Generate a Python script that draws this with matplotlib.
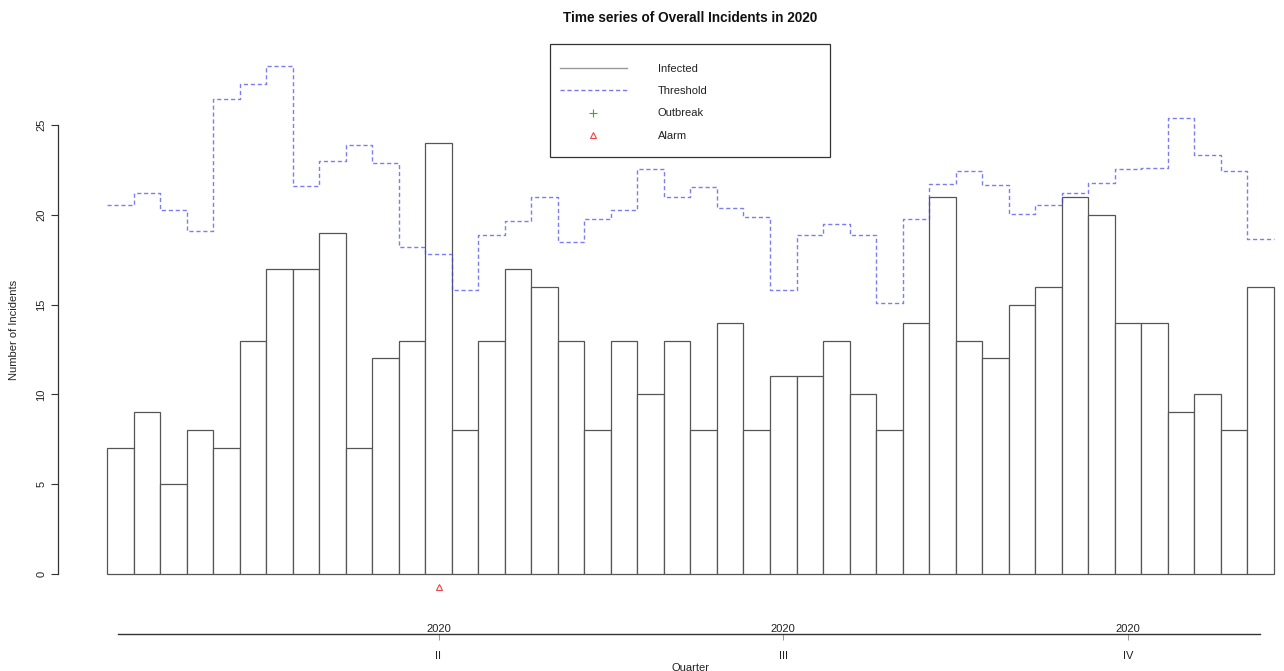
import matplotlib
matplotlib.use("Agg")
import matplotlib.pyplot as plt
from matplotlib.lines import Line2D
from matplotlib.patches import Rectangle
import numpy as np

plt.rcParams['font.family'] = ['Liberation Sans', 'DejaVu Sans']

weeks = list(range(1, 45))
infected = [7, 9, 5, 8, 7, 13, 17, 17, 19, 7, 12, 13, 24, 8, 13, 17, 16, 13, 8, 13,
            10, 13, 8, 14, 8, 11, 11, 13, 10, 8, 14, 21, 13, 12, 15, 16, 21, 20, 14, 14,
            9, 10, 8, 16]
threshold = [20.55, 21.2, 20.25, 19.1, 26.45, 27.3, 28.3, 21.6, 23.0, 23.9, 22.9, 18.2,
             17.8, 15.8, 18.9, 19.65, 21.0, 18.5, 19.75, 20.25, 22.55, 21.0, 21.55, 20.4,
             19.9, 15.8, 18.9, 19.5, 18.9, 15.1, 19.75, 21.7, 22.45, 21.65, 20.05, 20.55,
             21.2, 21.75, 22.55, 22.6, 25.4, 23.35, 22.45, 18.65]
alarm_weeks = [13]
quarter_ticks = [13, 26, 39]
quarter_labels = ['II', 'III', 'IV']
year_label = '2020'

W, H = 1284, 671
fig = plt.figure(figsize=(W / 100, H / 100), dpi=100)

def fx(px):
    return px / W

def fy(py):
    return 1 - py / H

FS = 8

# main axes: px 95..1280 horizontally, 50..600 vertically
ax = fig.add_axes([fx(95), fy(600), fx(1280) - fx(95), fy(50) - fy(600)])
xlim = (0.5 - 12 / 26.52, 0.5 + (1280 - 107) / 26.52)
ax.set_xlim(*xlim)
ax.set_ylim(-26 / 17.96, (574 - 50) / 17.96)

ax.bar(weeks, infected, width=1.0, facecolor='white', edgecolor='#555555', linewidth=0.9)

edges = np.arange(0.5, len(weeks) + 1, 1.0)
ax.step(edges, threshold + [threshold[-1]], where='post', color='#4444ee', alpha=0.7,
        linestyle=(0, (3, 2)), linewidth=1.0)

alarm_y = [-0.72 for _ in alarm_weeks]
ax.plot(alarm_weeks, alarm_y, linestyle='none', marker='^', markersize=5,
        markerfacecolor='none', markeredgecolor='#ee4444', markeredgewidth=0.8, clip_on=False)

for s in ['top', 'right', 'bottom']:
    ax.spines[s].set_visible(False)
ax.spines['left'].set_position(('outward', 37 * 0.72))
ax.spines['left'].set_bounds(0, 25)
ax.spines['left'].set_color('#333333')
ax.spines['left'].set_linewidth(0.9)
ax.set_yticks([0, 5, 10, 15, 20, 25])
ax.set_yticklabels(['0', '5', '10', '15', '20', '25'], rotation=90, va='center')
ax.tick_params(axis='y', length=5, width=0.8, color='#333333', labelsize=FS, pad=3.5,
               labelcolor='#222222')
ax.set_xticks([])
fig.text(fx(14), fy(330), 'Number of Incidents', rotation=90, ha='center', va='center',
         fontsize=FS, color='#222222')

# quarter axis
ax2 = fig.add_axes([fx(95), fy(634), fx(1280) - fx(95), 0.01])
ax2.set_xlim(*xlim)
ax2.set_ylim(0, 1)
ax2.patch.set_visible(False)
for s in ['top', 'right', 'left']:
    ax2.spines[s].set_visible(False)
ax2.spines['bottom'].set_bounds(0.5 + (118 - 107) / 26.52, 0.5 + (1260 - 107) / 26.52)
ax2.spines['bottom'].set_color('#333333')
ax2.spines['bottom'].set_linewidth(1.0)
ax2.set_yticks([])
ax2.set_xticks(quarter_ticks)
ax2.set_xticklabels(quarter_labels)
ax2.tick_params(axis='x', length=4, width=0.6, color='#888888', labelsize=FS, pad=8.5,
                labelcolor='#222222')
for q in quarter_ticks:
    ax2.text(q, 0.0, year_label, transform=ax2.get_xaxis_transform(), ha='center',
             va='bottom', fontsize=FS, color='#222222')
fig.text(fx(690), fy(668), 'Quarter', ha='center', va='center', fontsize=FS, color='#222222')

fig.text(fx(690), fy(18), 'Time series of Overall Incidents in 2020', ha='center', va='center',
         fontsize=9.8, fontweight='bold', color='#111111')

handles = [
    Line2D([], [], color='#999999', linewidth=1.0),
    Line2D([], [], color='#7777ee', linewidth=1.0, linestyle=(0, (3, 2))),
    Line2D([], [], color='#22bb22', linestyle='none', marker='+', markersize=6, markeredgewidth=0.8),
    Line2D([], [], color='#ee4444', linestyle='none', marker='^', markersize=5,
           markerfacecolor='none', markeredgewidth=0.8),
]
labels = ['Infected', 'Threshold', 'Outbreak', 'Alarm']
leg = fig.legend(handles, labels, loc='upper left',
                 bbox_to_anchor=(fx(560), fy(64)),
                 fontsize=FS, frameon=False, handlelength=6.0, handletextpad=2.8,
                 labelspacing=1.1, borderpad=0, borderaxespad=0)
for t in leg.get_texts():
    t.set_color('#222222')
fig.add_artist(Rectangle((fx(550), fy(157)), fx(830) - fx(550), fy(44) - fy(157),
                         transform=fig.transFigure, facecolor='none', edgecolor='#333333',
                         linewidth=0.9))

fig.savefig('out.png', dpi=100, facecolor='white')
